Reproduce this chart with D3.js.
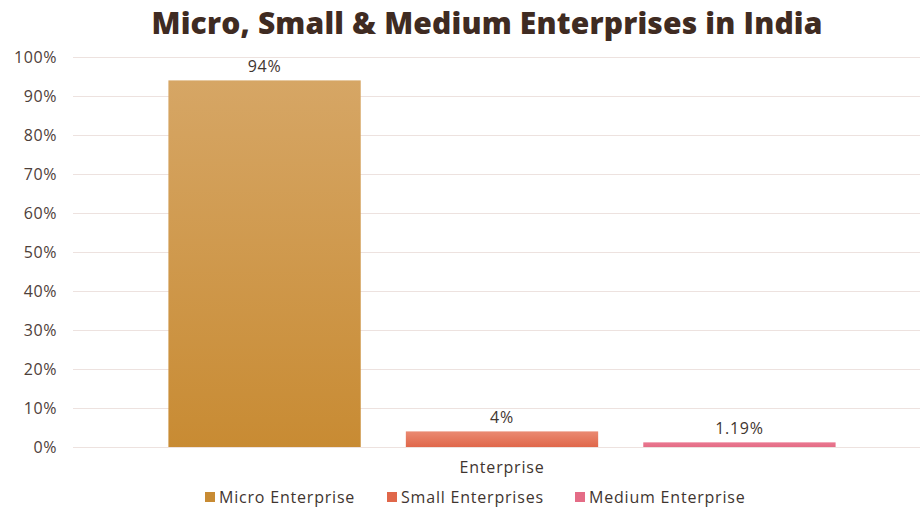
<!DOCTYPE html>
<html>
<head>
<meta charset="utf-8">
<script src="https://cdn.jsdelivr.net/npm/d3@7"></script>
<style>
  body { margin: 0; background: #fff; }
  text { font-family: "Open Sans", Lato, sans-serif; }
</style>
</head>
<body>
<div id="chart"></div>
<script>
const categories = ["Enterprise"];
const series = ["Micro Enterprise", "Small Enterprises", "Medium Enterprise"];
const values = [94, 4, 1.19];
const valueLabels = ["94%", "4%", "1.19%"];
const yTicks = [0, 10, 20, 30, 40, 50, 60, 70, 80, 90, 100];
const colorsTop = ["#d6a665", "#ea8a72", "#ea7890"];
const colorsBottom = ["#c88b33", "#e0674a", "#e46c86"];

const width = 920, height = 507;
const margin = {top: 57, right: -11, bottom: 60, left: 73};

const svg = d3.select("#chart")
    .append("svg")
    .attr("width", width)
    .attr("height", height);

const defs = svg.append("defs");
series.forEach((s, i) => {
    const grad = defs.append("linearGradient")
        .attr("id", "grad" + i)
        .attr("x1", 0).attr("y1", 0).attr("x2", 0).attr("y2", 1);
    grad.append("stop").attr("offset", "0%").attr("stop-color", colorsTop[i]);
    grad.append("stop").attr("offset", "100%").attr("stop-color", colorsBottom[i]);
});

const x0 = d3.scaleBand()
    .domain(categories)
    .range([margin.left, width - margin.right])
    .paddingInner(0)
    .paddingOuter(0.143);

const x1 = d3.scaleBand()
    .domain(series)
    .range([0, x0.bandwidth()])
    .paddingInner(0.19)
    .paddingOuter(0);

const y = d3.scaleLinear()
    .domain([0, 100])
    .range([height - margin.bottom, margin.top]);

// title
svg.append("text")
    .attr("x", 487)
    .attr("y", 34)
    .attr("text-anchor", "middle")
    .attr("textLength", 671)
    .attr("lengthAdjust", "spacing")
    .style("font-size", "30px")
    .style("font-weight", "800")
    .style("fill", "#3f2b22")
    .text("Micro, Small & Medium Enterprises in India");

// gridlines + y labels
const yAxis = svg.append("g")
    .attr("transform", `translate(${margin.left},0)`)
    .call(d3.axisLeft(y)
        .tickValues(yTicks)
        .tickSize(-(width - margin.left))
        .tickPadding(16)
        .tickFormat(d => d + "%"));

yAxis.select(".domain").remove();
yAxis.selectAll(".tick line")
    .attr("stroke", "#ede2df")
    .attr("stroke-width", 1);
yAxis.selectAll(".tick text")
    .style("font-size", "16px")
    .style("letter-spacing", "0.6px")
    .style("fill", "#4e4039");

// bars
const group = svg.append("g")
    .attr("transform", `translate(${x0(categories[0])},0)`);

group.selectAll("rect")
    .data(values)
    .join("rect")
    .attr("x", (d, i) => x1(series[i]))
    .attr("y", d => y(d))
    .attr("width", x1.bandwidth())
    .attr("height", d => y(0) - y(d))
    .attr("fill", (d, i) => `url(#grad${i})`);

group.selectAll(".value-label")
    .data(values)
    .join("text")
    .attr("class", "value-label")
    .attr("x", (d, i) => x1(series[i]) + x1.bandwidth() / 2)
    .attr("y", d => y(d) - 8)
    .attr("text-anchor", "middle")
    .style("font-size", "16px")
    .style("letter-spacing", "0.7px")
    .style("fill", "#3f3530")
    .text((d, i) => valueLabels[i]);

// category label
svg.append("text")
    .attr("x", x0(categories[0]) + x0.bandwidth() / 2)
    .attr("y", 473)
    .attr("text-anchor", "middle")
    .style("font-size", "16px")
    .style("letter-spacing", "0.8px")
    .style("fill", "#3f3530")
    .text(categories[0]);

// legend
const legendX = [205, 387, 575];
const legend = svg.append("g")
    .selectAll("g")
    .data(series)
    .join("g")
    .attr("transform", (d, i) => `translate(${legendX[i]},492)`);

legend.append("rect")
    .attr("x", 0)
    .attr("y", 0)
    .attr("width", 10)
    .attr("height", 10)
    .attr("fill", (d, i) => colorsBottom[i]);

legend.append("text")
    .attr("x", 14)
    .attr("y", 11)
    .style("font-size", "16px")
    .style("letter-spacing", "0.8px")
    .style("fill", "#3f3530")
    .text(d => d);
</script>
</body>
</html>
